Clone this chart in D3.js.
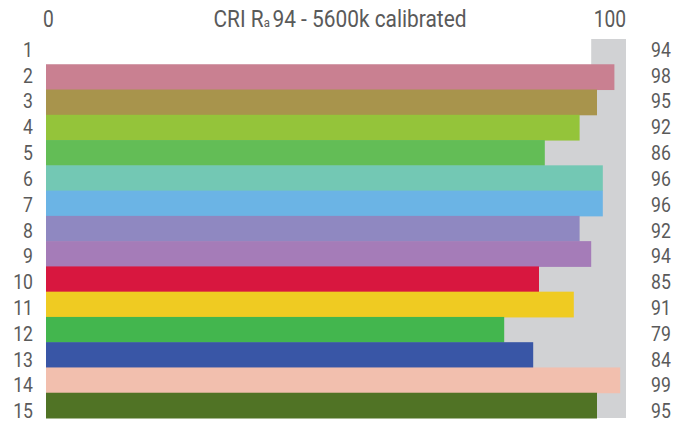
<!DOCTYPE html>
<html lang="en">
<head>
    <meta charset="UTF-8">
    <title>CRI chart</title>
    <style>
        body {
            margin: 0;
            background: #fff;
            overflow: hidden;
        }
        svg {
            display: block;
        }
        text {
            font-family: "Roboto", "Liberation Sans", sans-serif;
            fill: #5a5a5a;
        }
    </style>
</head>
<body>

<svg id="chart" width="694" height="423"></svg>

<script src="https://d3js.org/d3.v7.min.js"></script>
<script>
    // data
    const rows = ["1", "2", "3", "4", "5", "6", "7", "8", "9", "10", "11", "12", "13", "14", "15"];
    const values = [94, 98, 95, 92, 86, 96, 96, 92, 94, 85, 91, 79, 84, 99, 95];
    const colors = ["#ffffff", "#c98091", "#a8944c", "#94c43a", "#63bd56", "#73c8b4", "#6bb4e5",
        "#8f88c1", "#a57cb8", "#d8173f", "#efcb22", "#43b64e", "#3956a6", "#f2bfae", "#507325"];
    const axisTicks = [0, 100];

    const svg = d3.select("#chart");

    const x = d3.scaleLinear().domain([0, 100]).range([46, 626]);
    const y = d3.scaleBand().domain(rows).range([39, 418]).padding(0);
    // the labels run on a slightly looser grid than the bars
    const yLabel = d3.scaleBand().domain(rows).range([36.6, 423.9]).padding(0);

    // the original uses a condensed face, so squeeze Roboto
    function place(px, py, sx) {
        return `translate(${px},${py}) scale(${sx},1)`;
    }

    // grey backdrop for the full 0-100 range
    svg.append("rect")
        .attr("x", x(0))
        .attr("y", y.range()[0])
        .attr("width", x(100) - x(0))
        .attr("height", y.range()[1] - y.range()[0])
        .attr("fill", "#d1d2d4");

    svg.append("g")
        .selectAll("rect")
        .data(values)
        .enter()
        .append("rect")
        .attr("x", x(0))
        .attr("y", (d, i) => y(rows[i]))
        .attr("width", d => x(d) - x(0))
        .attr("height", y.bandwidth() + 0.5)
        .attr("fill", (d, i) => colors[i]);

    // row numbers on the left
    svg.append("g")
        .selectAll("text")
        .data(rows)
        .enter()
        .append("text")
        .attr("transform", d => place(33, yLabel(d) + yLabel.bandwidth() / 2 + 7.3, 0.86))
        .attr("text-anchor", "end")
        .style("font-size", "20.5px")
        .text(d => d);

    // values on the right
    svg.append("g")
        .selectAll("text")
        .data(values)
        .enter()
        .append("text")
        .attr("transform", (d, i) => place(651, yLabel(rows[i]) + yLabel.bandwidth() / 2 + 7.3, 0.86))
        .attr("text-anchor", "start")
        .style("font-size", "20.5px")
        .text(d => d);

    // top scale labels
    svg.append("g")
        .selectAll("text")
        .data(axisTicks)
        .enter()
        .append("text")
        .attr("transform", d => place(d === 0 ? x(d) - 3 : x(d), 27, 0.8))
        .attr("text-anchor", d => d === 0 ? "start" : "end")
        .style("font-size", "24px")
        .text(d => d);

    // title with subscript a
    const title = svg.append("text")
        .attr("transform", place(340, 27, 0.87))
        .attr("text-anchor", "middle")
        .style("font-size", "24px");
    title.append("tspan").text("CRI R");
    title.append("tspan").style("font-size", "13px").text("a");
    title.append("tspan").attr("dx", 3).text("94 - 5600k calibrated");
</script>

</body>
</html>
